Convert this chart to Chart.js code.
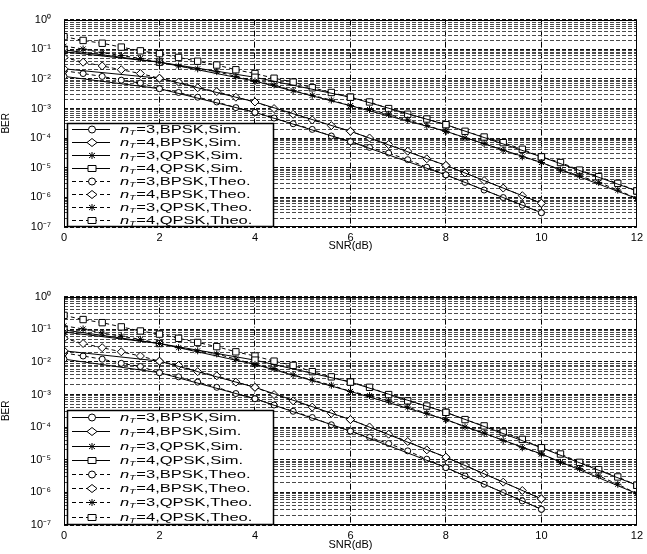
<!DOCTYPE html>
<html>
<head>
<meta charset="utf-8">
<script src="https://cdn.jsdelivr.net/npm/chart.js@4.4.1/dist/chart.umd.min.js"></script>
<style>
  html, body { margin: 0; padding: 0; background: #fff; }
  #wrap { position: relative; width: 647px; height: 554px; overflow: hidden; }
  .panel { position: absolute; left: 0; width: 647px; }
</style>
</head>
<body>
<div id="wrap">
  <div class="panel" style="top:0; height:270px;"><canvas id="top"></canvas></div>
  <div class="panel" style="top:277px; height:277px;"><canvas id="bottom"></canvas></div>
</div>
<script>
// SNR grid (dB)
var snrTheo  = [0,0.4,0.8,1.2,1.6,2,2.4,2.8,3.2,3.6,4,4.4,4.8,5.2,5.6,6,6.4,6.8,7.2,7.6,8,8.4,8.8,9.2,9.6,10,10.4,10.8,11.2,11.6,12];
var snrTheoB = [0,0.4,0.8,1.2,1.6,2,2.4,2.8,3.2,3.6,4,4.4,4.8,5.2,5.6,6,6.4,6.8,7.2,7.6,8,8.4,8.8,9.2,9.6,10];
var snrSim   = [0,2,4,6,8,10,12];
var snrSimB  = [0,2,4,6,8,10];

// simulated BER
var simB3 = [0.0121,0.00466,7.4e-4,7.56e-5,5.75e-6,3.03e-7];
var simB4 = [0.0218,0.0105,0.00166,1.7e-4,1.2e-5,6.34e-7];
var simQ3 = [0.082,0.0365,0.00838,0.00124,1.7e-4,1.5e-5,9.16e-7];
var simQ4 = [0.095,0.0365,0.0113,0.0024,2.84e-4,2.33e-5,1.65e-6];

// theoretical BER
var theoB3 = [0.0188,0.0151,0.0121,0.00902,0.00723,0.00466,0.00347,0.0024,0.00166,0.00107,7.4e-4,4.76e-4,3.06e-4,1.97e-4,1.18e-4,7.56e-5,4.86e-5,3.13e-5,1.87e-5,1.04e-5,5.75e-6,3.2e-6,1.77e-6,9.86e-7,5.47e-7,3.03e-7];
var theoB4 = [0.0527,0.0365,0.0272,0.0203,0.0151,0.0105,0.00778,0.00501,0.00373,0.0024,0.00166,9.93e-4,6.38e-4,4.1e-4,2.64e-4,1.7e-4,1.01e-4,6.07e-5,3.62e-5,2.01e-5,1.2e-5,6.67e-6,3.7e-6,2.06e-6,1.14e-6,6.34e-7];
var theoQ3 = [0.127,0.102,0.0762,0.0611,0.049,0.0365,0.0272,0.0218,0.0175,0.0121,0.00838,0.00625,0.00402,0.00278,0.00192,0.00124,9.23e-4,6.38e-4,4.1e-4,2.64e-4,1.7e-4,1.01e-4,6.53e-5,3.9e-5,2.33e-5,1.5e-5,8.32e-6,5.35e-6,3.2e-6,1.77e-6,9.16e-7];
var theoQ4 = [0.266,0.198,0.159,0.118,0.0883,0.0708,0.0527,0.0393,0.0293,0.0203,0.0151,0.0105,0.00778,0.00501,0.00347,0.0024,0.00166,9.93e-4,6.38e-4,4.42e-4,2.84e-4,1.7e-4,1.09e-4,7.03e-5,4.2e-5,2.33e-5,1.5e-5,8.32e-6,4.97e-6,2.97e-6,1.65e-6];

var legendLabels = ['nT=3,BPSK,Sim.','nT=4,BPSK,Sim.','nT=3,QPSK,Sim.','nT=4,QPSK,Sim.',
                    'nT=3,BPSK,Theo.','nT=4,BPSK,Theo.','nT=3,QPSK,Theo.','nT=4,QPSK,Theo.'];
var markers = ['circle','rectRot','star','rect'];

// y ticks: decades and minor multiples
var decades = [-7,-6,-5,-4,-3,-2,-1,0];
var mantissas = [1,2,3,4,5,6,7,8,9];
var supers = {'0':'\u2070','1':'\u00B9','2':'\u00B2','3':'\u00B3','4':'\u2074','5':'\u2075','6':'\u2076','7':'\u2077','-':'\u207B'};

function pts(xs, ys) {
  return ys.map(function(v, i) { return { x: xs[i], y: v }; });
}

function isDecade(v) {
  var l = Math.log10(v);
  return Math.abs(l - Math.round(l)) < 1e-6;
}

function makeDatasets() {
  var sims = [simB3, simB4, simQ3, simQ4];
  var theos = [theoB3, theoB4, theoQ3, theoQ4];
  var simX = [snrSimB, snrSimB, snrSim, snrSim];
  var theoX = [snrTheoB, snrTheoB, snrTheo, snrTheo];
  var radius = { circle: 3, rectRot: 4, star: 3.5, rect: 4.5 };
  var out = [];
  for (var i = 0; i < 4; i++) {
    out.push({
      label: legendLabels[i], data: pts(simX[i], sims[i]),
      borderColor: '#000', backgroundColor: '#fff', borderWidth: 1,
      pointStyle: markers[i], pointRadius: radius[markers[i]],
      pointBorderColor: '#000', pointBackgroundColor: '#fff', pointBorderWidth: 1,
      borderDash: [], tension: 0
    });
  }
  for (var j = 0; j < 4; j++) {
    out.push({
      label: legendLabels[j + 4], data: pts(theoX[j], theos[j]),
      borderColor: '#000', backgroundColor: '#fff', borderWidth: 1,
      pointStyle: markers[j], pointRadius: radius[markers[j]],
      pointBorderColor: '#000', pointBackgroundColor: '#fff', pointBorderWidth: 1,
      borderDash: [4, 3], tension: 0
    });
  }
  return out;
}

function drawMarker(ctx, style, x, y) {
  ctx.beginPath();
  if (style === 'star') {
    ctx.moveTo(x - 4, y); ctx.lineTo(x + 4, y);
    ctx.moveTo(x, y - 3.5); ctx.lineTo(x, y + 3.5);
    ctx.moveTo(x - 3, y - 2.5); ctx.lineTo(x + 3, y + 2.5);
    ctx.moveTo(x - 3, y + 2.5); ctx.lineTo(x + 3, y - 2.5);
    ctx.stroke();
    return;
  }
  if (style === 'circle') ctx.arc(x, y, 3.5, 0, Math.PI * 2);
  else if (style === 'rectRot') {
    ctx.moveTo(x - 5, y); ctx.lineTo(x, y - 4); ctx.lineTo(x + 5, y); ctx.lineTo(x, y + 4); ctx.closePath();
  } else ctx.rect(x - 4, y - 3, 8, 6);
  ctx.fillStyle = '#fff';
  ctx.fill();
  ctx.stroke();
}

// frame + legend box inside the plot, like the MATLAB figure
var framePlugin = {
  id: 'frameLegend',
  afterDraw: function(chart) {
    var ca = chart.chartArea, ctx = chart.ctx;
    ctx.save();
    ctx.strokeStyle = '#000';
    ctx.lineWidth = 1;
    ctx.setLineDash([]);
    ctx.strokeRect(Math.round(ca.left) + 0.5, Math.round(ca.top) + 0.5,
                   Math.round(ca.right - ca.left) - 1, Math.round(ca.bottom - ca.top) - 1);

    var rowH = (ca.bottom - ca.top) * 0.0622;
    var bx = Math.round(ca.left) + 3, bw = 206, bh = Math.round(rowH * 8);
    var by = Math.round(ca.bottom) - bh - 1;
    ctx.fillStyle = '#fff';
    ctx.fillRect(bx, by, bw, bh);
    ctx.lineWidth = 1.5;
    ctx.strokeRect(bx + 0.5, by + 0.5, bw, bh);
    ctx.lineWidth = 1;

    chart.data.datasets.forEach(function(ds, i) {
      var cy = Math.round(by + rowH * (i + 0.5)) + 0.5;
      ctx.strokeStyle = '#000';
      ctx.lineWidth = 1;
      ctx.setLineDash(ds.borderDash);
      ctx.beginPath();
      ctx.moveTo(bx + 5, cy); ctx.lineTo(bx + 43, cy);
      ctx.stroke();
      ctx.setLineDash([]);
      drawMarker(ctx, ds.pointStyle, bx + 25, cy);

      var label = ds.label;
      ctx.save();
      ctx.translate(bx + 53, cy + 3);
      ctx.scale(1.5, 1);
      ctx.fillStyle = '#000';
      ctx.textBaseline = 'alphabetic';
      ctx.font = 'italic 11px "Liberation Sans", Arial, sans-serif';
      ctx.fillText(label.charAt(0), 0, 0);
      var w = ctx.measureText(label.charAt(0)).width;
      ctx.font = 'italic 7px "Liberation Sans", Arial, sans-serif';
      ctx.fillText(label.charAt(1), w, 2.5);
      w += ctx.measureText(label.charAt(1)).width + 0.5;
      ctx.font = '11px "Liberation Sans", Arial, sans-serif';
      ctx.fillText(label.slice(2), w, 0);
      ctx.restore();
    });
    ctx.restore();
  }
};

function makeChart(id, padTop, padBottom, xHeight) {
  return new Chart(document.getElementById(id), {
    type: 'line',
    data: { datasets: makeDatasets() },
    options: {
      responsive: true,
      maintainAspectRatio: false,
      animation: false,
      layout: { padding: { left: 0, right: 6, top: padTop, bottom: padBottom } },
      plugins: { legend: { display: false }, tooltip: { enabled: false } },
      scales: {
        x: {
          type: 'linear', min: 0, max: 12,
          afterFit: function(s) { s.height = xHeight; },
          ticks: { stepSize: 2, padding: 4, color: '#000',
                   font: { family: '"Liberation Sans", Arial, sans-serif', size: 11 } },
          grid: { color: '#000', lineWidth: 1, drawTicks: false },
          border: { display: false, dash: [6, 2, 1, 2] },
          title: { display: true, text: 'SNR(dB)', color: '#000', padding: { top: 0, bottom: 2 },
                   font: { family: '"Liberation Sans", Arial, sans-serif', size: 11 } }
        },
        y: {
          type: 'logarithmic', min: 1e-7, max: 1,
          afterFit: function(s) { s.width = 64; },
          afterBuildTicks: function(s) {
            var t = [];
            decades.forEach(function(e) {
              mantissas.forEach(function(m) {
                var v = m * Math.pow(10, e);
                if (v <= 1.0000001) t.push({ value: v });
              });
            });
            s.ticks = t;
          },
          ticks: {
            autoSkip: false, padding: 13, color: '#000',
            font: { family: '"Liberation Sans", Arial, sans-serif', size: 11 },
            callback: function(v) {
              if (!isDecade(v)) return '';
              var e = String(Math.round(Math.log10(v)));
              return '10' + e.split('').map(function(c) { return supers[c]; }).join('');
            }
          },
          grid: {
            drawTicks: false, lineWidth: 1,
            color: function(c) { return c.tick && isDecade(c.tick.value) ? '#111' : '#4a4a4a'; }
          },
          border: { display: false, dash: [4, 2] },
          title: { display: true, text: 'BER', color: '#000', padding: { top: 0, bottom: 0 },
                   font: { family: '"Liberation Sans", Arial, sans-serif', size: 10 } }
        }
      }
    },
    plugins: [framePlugin]
  });
}

makeChart('top', 8, 15, 28);
makeChart('bottom', 16, 0, 29);
</script>
</body>
</html>
